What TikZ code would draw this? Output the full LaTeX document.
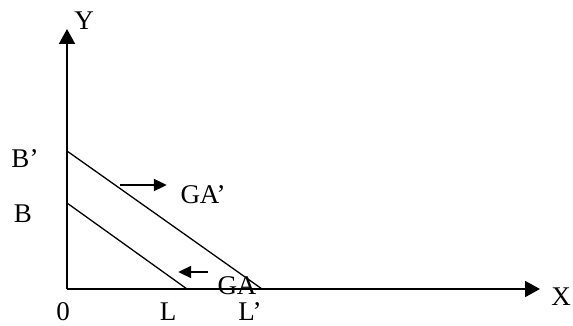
\documentclass[tikz,border=0pt]{standalone}
\usepackage{fontspec}
\setmainfont{Liberation Serif}
\usetikzlibrary{arrows.meta}
\tikzset{
  axis/.style={
    line width=2pt,
    -{Triangle[length=15pt, width=16pt]}
  },
  budget/.style={
    line width=1.3pt
  },
  shift arrow/.style={
    line width=2pt,
    -{Triangle[length=13pt, width=12pt]}
  },
  lbl/.style={
    font=\fontsize{27}{30}\selectfont, inner sep=0pt
  },
  pt/.style={
    inner sep=0pt, minimum size=0pt
  }
}

\begin{document}
\begin{tikzpicture}[x=1pt, y=-1pt]

\useasboundingbox (0,0) rectangle (573,326);

% ── Axis points ───────────────────────────────────────────────────────────────

\node[pt] (O)    at (67,289) {};
\node[pt] (ytop) at (67,29)  {};
\node[pt] (xend) at (540,289) {};

% ── Budget line end points ────────────────────────────────────────────────────

\node[pt] (B)  at (67,203) {};
\node[pt] (Bp) at (67,151) {};
\node[pt] (L)  at (187,289) {};
\node[pt] (Lp) at (262,289) {};

% ── Shift arrow end points ────────────────────────────────────────────────────

\node[pt] (rs) at (120,185) {};
\node[pt] (re) at (167,185) {};
\node[pt] (ls) at (208,272) {};
\node[pt] (le) at (178,272) {};

% ── Labels ────────────────────────────────────────────────────────────────────

\node[lbl] (ylab)   at (84,21)   {Y};
\node[lbl] (xlab)   at (561,297) {X};
\node[lbl] (Blab)   at (23,214)  {B};
\node[lbl] (Bplab)  at (25,159)  {B’};
\node[lbl] (Olab)   at (63,312)  {0};
\node[lbl] (Llab)   at (168,312) {L};
\node[lbl] (Lplab)  at (250,312) {L’};
\node[lbl] (GAp)    at (203,195) {GA’};

% ── Lines ─────────────────────────────────────────────────────────────────────

\draw[budget] (B) -- (L);
\draw[budget] (Bp) -- (Lp);

\node[lbl] (GA)     at (237,286) {GA};

\draw[axis] (O.center) -- (ytop.center);
\draw[axis] (O.center) -- (xend.center);

\draw[shift arrow] (rs) -- (re);
\draw[shift arrow] (ls) -- (le);

\end{tikzpicture}
\end{document}
